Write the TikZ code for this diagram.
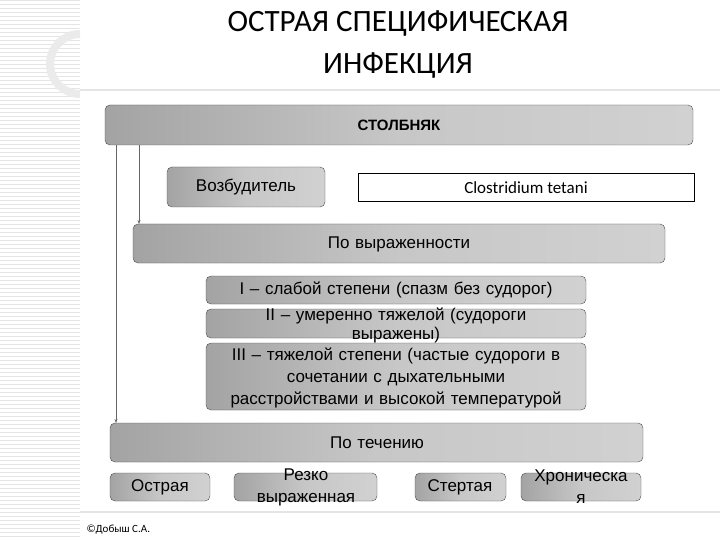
\documentclass[tikz,border=0pt]{standalone}
\usepackage{fontspec}
\setmainfont{Liberation Sans}
\newfontfamily\titlefont{Carlito}
\usetikzlibrary{arrows.meta}
\begin{document}
\begin{tikzpicture}[x=1pt,y=-1pt,
  box/.style={draw=black!70,rounded corners=5pt,left color=black!36,right color=black!18,middle color=black!22},
  lbl/.style={font=\fontsize{17}{18}\selectfont,align=center,text width=#1},
  lbl/.default=400pt]
\useasboundingbox (0,0) rectangle (720,540);
\fill[white] (0,0) rectangle (720,540);
% background pattern
\foreach \yy in {0,4,...,540}{\draw[black!10,line width=0.6pt] (0,\yy) -- (80,\yy);}
\draw[black!8,line width=8pt] (80,94) arc (90:270:30);
\draw[black!8,line width=8pt] (80,-10) arc (90:270:25);
\draw[black!10,line width=1.5pt] (80,90) -- (720,90);
\draw[black!10,line width=1.5pt] (80,512) -- (720,512);
% title
\node[font=\titlefont\fontsize{31}{42}\selectfont,align=center] (title) at (398,45) {ОСТРАЯ СПЕЦИФИЧЕСКАЯ\\ИНФЕКЦИЯ};
% boxes
\path[box] (105,105) rectangle (693,145);
\node[font=\bfseries\fontsize{15}{17}\selectfont] (st) at (399,125) {СТОЛБНЯК};
\path[box] (167,167) rectangle (325,207);
\node[lbl=155pt] (vozb) at (246,187) {Возбудитель};
\draw[black,line width=1pt,fill=white] (358,174) rectangle (694,202);
\node[font=\titlefont\fontsize{17}{18}\selectfont] (clos) at (526,188) {Clostridium tetani};
\path[box] (133,224) rectangle (665,263);
\node[lbl] (vyr) at (399,244) {По выраженности};
\path[box] (206,276) rectangle (586,304);
\node[lbl] (s1) at (396,290) {I – слабой степени (спазм без судорог)};
\path[box] (206,309) rectangle (586,338);
\node[lbl=400pt,font=\fontsize{17}{19}\selectfont] (s2) at (396,325) {II – умеренно тяжелой (судороги\\ выражены)};
\path[box] (206,343) rectangle (586,410);
\node[lbl=400pt,font=\fontsize{17}{22}\selectfont] (s3) at (396,378) {III – тяжелой степени (частые судороги в\\сочетании с дыхательными\\расстройствами и высокой температурой};
\path[box] (110,423) rectangle (643,462);
\node[lbl] (tech) at (377,443) {По течению};
\path[box] (110,473) rectangle (210,501);
\node[lbl=100pt] (o1) at (160,487) {Острая};
\path[box] (234,473) rectangle (377,501);
\node[lbl=140pt,font=\fontsize{17}{22}\selectfont] (o2) at (306,487) {Резко\\выраженная};
\path[box] (415,473) rectangle (506,501);
\node[lbl=90pt] (o3) at (460,487) {Стертая};
\path[box] (521,473) rectangle (641,501);
\node[lbl=120pt,font=\fontsize{17}{22}\selectfont] (o4) at (581,487) {Хроническа\\я};
% connectors
\coordinate (a1) at (116,145); \coordinate (a2) at (116,423);
\coordinate (b1) at (139,145); \coordinate (b2) at (139,224);
\draw[black!60,line width=1pt,-{Stealth[length=4pt]}] (a1) -- (a2);
\draw[black!60,line width=1pt,-{Stealth[length=4pt]}] (b1) -- (b2);
\node[font=\titlefont\fontsize{11}{12}\selectfont,anchor=west] (copy) at (83,530) {©Добыш С.А.};
\end{tikzpicture}
\end{document}
